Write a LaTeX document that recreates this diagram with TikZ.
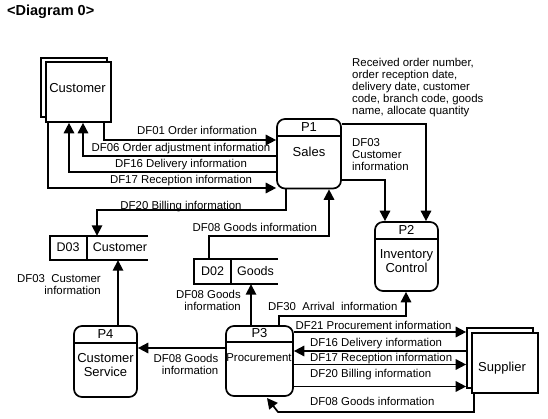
\documentclass[tikz,border=0pt]{standalone}
\usepackage{fontspec}
\setmainfont{Liberation Sans}
\usetikzlibrary{arrows.meta}
\begin{document}
\begin{tikzpicture}[x=1pt,y=-1pt,
  ln/.style={line width=1.7pt},
  arr/.style={ln,-{Triangle[length=10.5pt,width=10.5pt]}},
  proc/.style={draw,ln,rounded corners=8pt,inner sep=0pt},
  ent/.style={draw,ln,fill=white,inner sep=0pt},
  lbl/.style={font=\fontsize{11.4}{12}\selectfont,inner sep=0pt,text height=8.2pt,text depth=0pt},
  mlbl/.style={font=\fontsize{11.4}{12.4}\selectfont,inner sep=0pt},
  ntx/.style={font=\fontsize{13}{14}\selectfont,inner sep=0pt},
  stx/.style={font=\fontsize{12.5}{13}\selectfont,inner sep=0pt,text height=9pt,text depth=0pt}]
\useasboundingbox (0,0) rectangle (548,419);

% title
\node[font=\fontsize{14.5}{16}\selectfont\bfseries,inner sep=0pt,anchor=west,text height=10.4pt,text depth=0pt] (title) at (7,10) {<Diagram 0>};

% external entities
\node[ent,minimum width=66pt,minimum height=59pt] (custb) at (74,87.5) {};
\node[ent,minimum width=65pt,minimum height=60pt] (cust) at (78.5,92) {};
\node[ntx] (custt) at (77.5,88) {Customer};
\node[ent,minimum width=66pt,minimum height=60pt] (supb) at (500,358) {};
\node[ent,minimum width=66pt,minimum height=60pt] (sup) at (505,363) {};
\node[ntx] (supt) at (502,368) {Supplier};

% processes
\node[proc,minimum width=64pt,minimum height=69.5pt] (p1) at (309,153.75) {};
\draw[ln] (p1.west |- 0,136) -- (p1.east |- 0,136);
\node[ntx] (p1n) at (309,127) {P1};
\node[ntx] (p1t) at (309,152) {Sales};

\node[proc,minimum width=63pt,minimum height=69pt] (p2) at (406.5,256.5) {};
\draw[ln] (p2.west |- 0,239) -- (p2.east |- 0,239);
\node[ntx] (p2n) at (406.5,230) {P2};
\node[ntx,align=center] (p2t) at (406.5,261.5) {Inventory\\Control};

\node[proc,minimum width=67pt,minimum height=70pt] (p3) at (259.5,361) {};
\draw[ln] (p3.west |- 0,342) -- (p3.east |- 0,342);
\node[ntx] (p3n) at (259.5,333) {P3};
\node[lbl] (p3t) at (259,357) {Procurement};

\node[proc,minimum width=63pt,minimum height=71pt] (p4) at (105.5,361.5) {};
\draw[ln] (p4.west |- 0,343) -- (p4.east |- 0,343);
\node[ntx] (p4n) at (105.5,334) {P4};
\node[ntx,align=center] (p4t) at (105.5,365.5) {Customer\\Service};

% data stores
\node[minimum width=98pt,minimum height=24pt,inner sep=0pt] (d03) at (99,248) {};
\draw[ln] (d03.north east) -- (d03.north west) -- (d03.south west) -- (d03.south east);
\draw[ln] (d03.north -| 87,0) -- (d03.south -| 87,0);
\node[stx] (d03a) at (68,247.5) {D03};
\node[stx] (d03b) at (120,247.5) {Customer};

\node[minimum width=84pt,minimum height=25pt,inner sep=0pt] (d02) at (236,271.5) {};
\draw[ln] (d02.north east) -- (d02.north west) -- (d02.south west) -- (d02.south east);
\draw[ln] (d02.north -| 231,0) -- (d02.south -| 231,0);
\node[stx] (d02a) at (212.5,271.5) {D02};
\node[stx] (d02b) at (255.5,271.5) {Goods};

% connectors Customer <-> Sales
\draw[arr] (cust.south -| 104,0) -- (104,140) -- (p1.west |- 0,140);
\draw[arr] (p1.west |- 0,155.7) -- (83,155.7) -- (cust.south -| 83,0);
\draw[arr] (p1.west |- 0,171.7) -- (69,171.7) -- (cust.south -| 69,0);
\draw[arr] (cust.south -| 48,0) -- (48,188) -- (p1.west |- 0,188);
\draw[arr] (p1.south -| 286,0) -- (286,210) -- (97,210) -- (d03.north -| 97,0);
\draw[arr] (d02.north -| 209,0) -- (209,236) -- (329,236) -- (p1.south -| 329,0);

\node[lbl] (l1) at (197,130) {DF01 Order information};
\node[lbl] (l2) at (181,147.5) {DF06 Order adjustment information};
\node[lbl] (l3) at (181,163.5) {DF16 Delivery information};
\node[lbl] (l4) at (181,179) {DF17 Reception information};
\node[lbl] (l5) at (181,205.5) {DF20 Billing information};
\node[lbl,anchor=west] (l6) at (192.5,227.3) {DF08 Goods information};

% Sales -> Inventory
\draw[arr] (p1.east |- 0,124) -- (426,124) -- (p2.north -| 426,0);
\draw[arr] (p1.east |- 0,180) -- (385,180) -- (p2.north -| 385,0);
\node[mlbl,align=left,anchor=west,font=\fontsize{11.4}{11.8}\selectfont] (l7) at (352,87.5) {Received order number,\\order reception date,\\delivery date, customer\\code, branch code, goods\\name, allocate quantity};
\node[mlbl,align=left,anchor=west] (l8) at (352,154.5) {DF03\\Customer\\information};

% P4, P3, stores
\draw[arr] (p4.north -| 118,0) -- (d03.south -| 118,0);
\node[mlbl,align=right,anchor=east] (l9) at (101,284.5) {DF03~ Customer\\information};
\draw[arr] (p3.north -| 251,0) -- (d02.south -| 251,0);
\node[mlbl,align=right,anchor=east] (l10) at (241,300.5) {DF08 Goods\\information};
\draw[arr] (p3.west |- 0,348) -- (p4.east |- 0,348);
\node[mlbl,align=right,anchor=east] (l11) at (218.5,364.5) {DF08 Goods\\information};

% P3 -> P2
\draw[arr] (p3.north -| 279,0) -- (279,316) -- (406,316) -- (p2.south -| 406,0);
\node[lbl,anchor=west] (l12) at (268,306.5) {DF30~ Arrival~ information};

% P3 <-> Supplier
\draw[arr] (p3.east |- 0,332) -- (supb.west |- 0,332);
\node[lbl,anchor=west] (l13) at (295.5,325.5) {DF21 Procurement information};
\draw[arr] (supb.west |- 0,351) -- (p3.east |- 0,351);
\node[lbl,anchor=west] (l14) at (310,342) {DF16 Delivery information};
\draw[arr] (p3.east |- 0,364.5) -- (supb.west |- 0,364.5);
\node[lbl,anchor=west] (l15) at (310,357) {DF17 Reception information};
\draw[arr] (p3.east |- 0,386.5) -- (supb.west |- 0,386.5);
\node[lbl,anchor=west] (l16) at (310,373.5) {DF20 Billing information};
\coordinate (p3tip) at (267,398);
\draw[arr] (sup.south -| 474,0) -- (474,412) -- (278,412) -- (p3tip);
\node[lbl,anchor=west] (l17) at (310,401.5) {DF08 Goods information};
\end{tikzpicture}
\end{document}
